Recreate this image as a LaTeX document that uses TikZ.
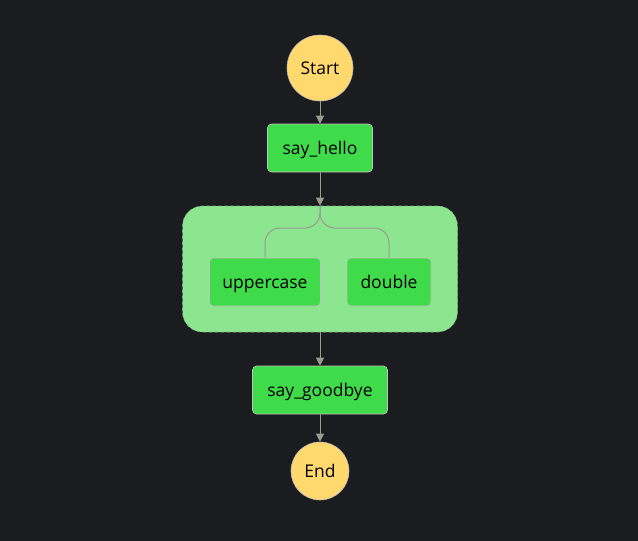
\documentclass[tikz,border=0pt]{standalone}
\usepackage{fontspec}
\setmainfont{Open Sans}
\usetikzlibrary{arrows.meta,positioning}
\definecolor{bg}{HTML}{1B1C1F}
\definecolor{term}{HTML}{FFD86E}
\definecolor{task}{HTML}{40DB4A}
\definecolor{par}{HTML}{8BE68F}
\definecolor{conn}{HTML}{9C9893}
\definecolor{edge}{HTML}{7FB57F}
\tikzset{
  lbl/.style={font=\fontsize{17.5}{20}\selectfont,text=black,text height=14pt,text depth=1.5pt},
  termnode/.style={circle,fill=term,draw=conn!70,line width=0.6pt,inner sep=0pt,lbl},
  tasknode/.style={rectangle,rounded corners=4pt,fill=task,draw=conn!60,line width=0.6pt,inner sep=0pt,lbl},
  arr/.style={draw=conn,line width=1pt,-{Triangle[length=8pt,width=8pt]}},
  branch/.style={draw=conn,line width=1pt,rounded corners=15pt}
}
\begin{document}
\begin{tikzpicture}[x=1pt,y=-1pt]
\fill[bg] (0,0) rectangle (638,541);
\useasboundingbox (0,0) rectangle (638,541);
\node[termnode,minimum size=66pt] (start) at (320,68) {Start};
\node[tasknode,minimum width=105pt,minimum height=48pt] (hello) at (320,148) {say\_hello};
\node[rectangle,rounded corners=20pt,fill=par,draw=edge,dashed,line width=0.6pt,minimum width=275pt,minimum height=126pt] (parallel) at (320,269) {};
\node[tasknode,minimum width=111pt,minimum height=48pt] (upper) at (265,282) {uppercase};
\node[tasknode,minimum width=84pt,minimum height=48pt] (dbl) at (389,282) {double};
\node[tasknode,minimum width=135pt,minimum height=48pt] (bye) at (320,390) {say\_goodbye};
\node[termnode,minimum size=58pt] (end) at (320,471) {End};
\coordinate (fork) at (parallel.north);
\draw[arr] (start) -- (hello);
\draw[arr] (hello) -- (parallel);
\draw[branch] (fork) -- (320,228) -| (upper.north);
\draw[branch] (fork) -- (320,228) -| (dbl.north);
\draw[arr] (parallel) -- (bye);
\draw[arr] (bye) -- (end);
\end{tikzpicture}
\end{document}
